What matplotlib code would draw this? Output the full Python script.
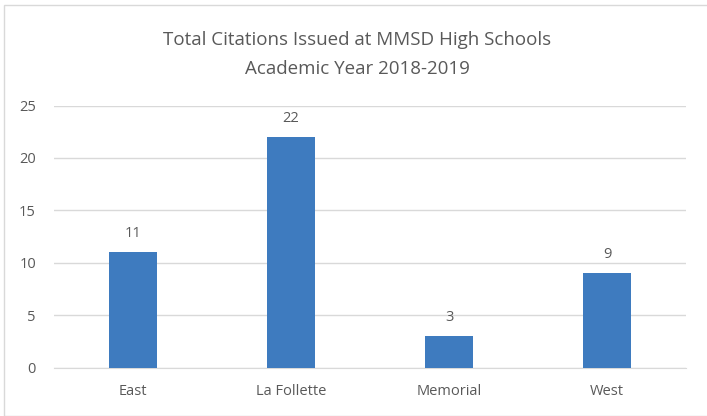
import matplotlib
matplotlib.use("Agg")
import matplotlib.pyplot as plt
from matplotlib.patches import Rectangle

schools = ["East", "La Follette", "Memorial", "West"]
citations = [11, 22, 3, 9]
yticks = [0, 5, 10, 15, 20, 25]

plt.rcParams['font.family'] = ['Open Sans', 'DejaVu Sans']
gray = "#595959"

fig = plt.figure(figsize=(7.07, 4.16), dpi=100)
ax = fig.add_axes([54/707, 1-367.7/416, 632/707, 262.2/416])

x = range(len(schools))
bars = ax.bar(x, citations, width=0.31, color="#3e7bbf", zorder=3)
for b, v in zip(bars, citations):
    ax.annotate(str(v), (b.get_x() + b.get_width()/2, v), xytext=(0, 8),
                textcoords="offset points", ha="center", va="bottom",
                fontsize=10.5, color=gray)

ax.set_xlim(-0.5, len(schools) - 0.5)
ax.set_ylim(0, 25)
ax.set_yticks(yticks)
ax.set_xticks(list(x))
ax.set_xticklabels(schools)
ax.grid(axis="y", color="#d9d9d9", linewidth=1, zorder=0)
for s in ["top", "right", "left"]:
    ax.spines[s].set_visible(False)
ax.spines["bottom"].set_color("#d9d9d9")
ax.tick_params(axis="both", length=0, labelsize=10.5, colors=gray)
ax.tick_params(axis="y", pad=13)
ax.tick_params(axis="x", pad=12)

fig.text(357/707, 1-40/416, "Total Citations Issued at MMSD High Schools",
         ha="center", va="center", fontsize=13.5, color=gray)
fig.text(357/707, 1-69/416, "Academic Year 2018-2019",
         ha="center", va="center", fontsize=13.5, color=gray)

fig.patches.append(Rectangle((4/707, 0), 710/707, 1-5/416, transform=fig.transFigure,
                             fill=False, edgecolor="#d9d9d9", linewidth=1))

fig.savefig("out.png", dpi=100)
